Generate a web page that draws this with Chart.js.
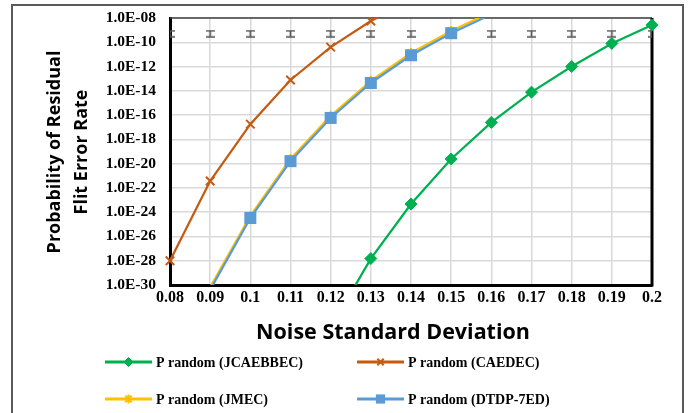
<!DOCTYPE html>
<html><head><meta charset="utf-8">
<script src="https://cdn.jsdelivr.net/npm/chart.js@4/dist/chart.umd.min.js"></script>
<style>html,body{margin:0;padding:0;background:#fff;}#wrap{width:690px;height:413px;position:relative;}</style>
</head><body><div id="wrap"><canvas id="c" width="690" height="413"></canvas></div>
<script>
// ---- data ----
const xValues = [0.08, 0.09, 0.10, 0.11, 0.12, 0.13, 0.14, 0.15, 0.16, 0.17, 0.18, 0.19, 0.20];
const xTickLabels = ['0.08','0.09','0.1','0.11','0.12','0.13','0.14','0.15','0.16','0.17','0.18','0.19','0.2'];
const yTickValues = [1e-30,1e-28,1e-26,1e-24,1e-22,1e-20,1e-18,1e-16,1e-14,1e-12,1e-10,1e-8];
const yTickLabels = ['1.0E-30','1.0E-28','1.0E-26','1.0E-24','1.0E-22','1.0E-20','1.0E-18','1.0E-16','1.0E-14','1.0E-12','1.0E-10','1.0E-08'];
const seriesNames = ['P random (JCAEBBEC)','P random (CAEDEC)','P random (JMEC)','P random (DTDP-7ED)'];
const pJCAEBBEC = [null, null, null, null, 3e-34, 1.5e-28, 4.7e-24, 2.4e-20, 2.5e-17, 7.8e-15, 1.0e-12, 8.0e-11, 2.7e-9];
const pCAEDEC   = [1.0e-28, 3.7e-22, 1.8e-17, 7.8e-14, 4.0e-11, 5.6e-9, 3.0e-7, null, null, null, null, null, null];
const pJMEC     = [null, 6.5e-31, 5.0e-25, 2.4e-20, 8.7e-17, 6.6e-14, 1.3e-11, 8.5e-10, 3.2e-8, null, null, null, null];
const pDTDP7ED  = [null, 4.0e-31, 3.3e-25, 1.6e-20, 5.8e-17, 4.4e-14, 8.5e-12, 5.6e-10, 2.0e-8, null, null, null, null];
const errorMarks = [5e-10,5e-10,5e-10,5e-10,5e-10,5e-10,5e-10,5e-10,5e-10,5e-10,5e-10,5e-10,5e-10];

const Y_MIN = 1e-30, Y_MAX = 1e-8;
const toPts = arr => xValues.map((x, i) => ({x: x, y: arr[i]}));
// markers are hidden when their value lies outside the plotted range (as in the original)
const radiusIn = r => (c => { const v = c.raw && c.raw.y; return (v == null || v > Y_MAX * 1.0001 || v < Y_MIN * 0.9999) ? 0 : r; });

// I-shaped error bar glyph
const errGlyph = document.createElement('canvas');
errGlyph.width = 9; errGlyph.height = 8;
(function(){
  const g = errGlyph.getContext('2d');
  g.strokeStyle = '#595959'; g.lineWidth = 1.7;
  g.beginPath();
  g.moveTo(0, 1); g.lineTo(9, 1);
  g.moveTo(4.5, 1); g.lineTo(4.5, 7);
  g.moveTo(0, 7); g.lineTo(9, 7);
  g.stroke();
})();

const SERIF = "'Liberation Serif', 'Times New Roman', serif";
const SANS = "'Open Sans', 'Noto Sans', sans-serif";

const datasets = [
  {label: seriesNames[0], data: toPts(pJCAEBBEC), borderColor:'#00B050', backgroundColor:'#00B050',
   borderWidth:2.25, pointStyle:'rectRot', pointRadius:radiusIn(6), pointBorderWidth:1, order:2, legendRadius:4.5,
   clip:{left:0, top:0, right:8, bottom:0}},
  {label: seriesNames[1], data: toPts(pCAEDEC), borderColor:'#C55A11', backgroundColor:'#C55A11',
   borderWidth:2.25, pointStyle:'crossRot', pointRadius:radiusIn(6), pointBorderWidth:2, order:3, legendRadius:4.5,
   clip:{left:8, top:0, right:0, bottom:0}},
  {label: seriesNames[2], data: toPts(pJMEC), borderColor:'#FFC000', backgroundColor:'#FFC000',
   borderWidth:2.25, pointStyle:'star', pointRadius:radiusIn(5), pointBorderWidth:2, order:1, clip:0, legendRadius:4.5},
  {label: seriesNames[3], data: toPts(pDTDP7ED), borderColor:'#5B9BD5', backgroundColor:'#5B9BD5',
   borderWidth:2.25, pointStyle:'rect', pointRadius:radiusIn(8.5), pointBorderWidth:0, order:0, clip:0, legendRadius:6.5},
  {label: 'error', data: toPts(errorMarks), showLine:false, pointStyle: errGlyph, pointRadius:5,
   borderColor:'#595959', backgroundColor:'#595959', order:4, clip:0, isError:true}
];

const decor = {
  id: 'decor',
  beforeDraw(chart) {
    const ctx = chart.ctx;
    ctx.save();
    ctx.fillStyle = '#fff';
    ctx.fillRect(0, 0, chart.width, chart.height);
    ctx.strokeStyle = '#595959';
    ctx.lineWidth = 2;
    ctx.beginPath();
    ctx.moveTo(12, 420); ctx.lineTo(12, 5); ctx.lineTo(683, 5); ctx.lineTo(683, 420);
    ctx.stroke();
    ctx.restore();
  },
  beforeDatasetsDraw(chart) {
    const ctx = chart.ctx, a = chart.chartArea;
    ctx.save();
    ctx.strokeStyle = '#404040'; ctx.lineWidth = 1.5;
    ctx.beginPath(); ctx.moveTo(a.left, a.top); ctx.lineTo(a.right, a.top); ctx.stroke();
    ctx.strokeStyle = '#000'; ctx.lineWidth = 3;
    ctx.beginPath(); ctx.moveTo(a.right, a.top); ctx.lineTo(a.right, a.bottom + 1.5); ctx.stroke();
    ctx.restore();
  },
  afterDraw(chart) {
    const ctx = chart.ctx;
    ctx.save();
    // axis titles
    ctx.fillStyle = '#000';
    ctx.font = "bold 18px " + SANS;
    ctx.textAlign = 'center'; ctx.textBaseline = 'alphabetic';
    ctx.save(); ctx.translate(60, 152); ctx.rotate(-Math.PI/2); ctx.fillText('Probability of Residual', 0, 0); ctx.restore();
    ctx.save(); ctx.translate(87, 152); ctx.rotate(-Math.PI/2); ctx.fillText('Flit Error Rate', 0, 0); ctx.restore();
    ctx.font = "bold 21.5px " + SANS;
    ctx.fillText('Noise Standard Deviation', 393, 339);
    // legend
    const pos = [[105, 362], [357, 362], [105, 399], [357, 399]];
    const helpers = Chart.helpers;
    chart.data.datasets.forEach((ds, i) => {
      if (ds.isError) return;
      const [lx, ly] = pos[i];
      ctx.strokeStyle = ds.borderColor; ctx.fillStyle = ds.backgroundColor;
      ctx.lineWidth = 3;
      ctx.beginPath(); ctx.moveTo(lx, ly); ctx.lineTo(lx + 47, ly); ctx.stroke();
      ctx.lineWidth = ds.pointBorderWidth || 1;
      if (helpers && helpers.drawPoint) {
        helpers.drawPoint(ctx, {pointStyle: ds.pointStyle, radius: ds.legendRadius, rotation: 0, borderWidth: ds.pointBorderWidth}, lx + 23.5, ly);
      }
      ctx.fillStyle = '#000';
      ctx.font = "bold 14px " + SERIF;
      ctx.textAlign = 'left'; ctx.textBaseline = 'alphabetic';
      ctx.fillText(ds.label, lx + 51, ly + 5);
    });
    ctx.restore();
  }
};

new Chart(document.getElementById('c'), {
  type: 'line',
  data: {datasets: datasets},
  options: {
    responsive: false, animation: false, devicePixelRatio: 1, events: [],
    layout: {padding: {left: 0, right: 38, top: 18, bottom: 68}},
    elements: {line: {tension: 0}},
    plugins: {legend: {display: false}, tooltip: {enabled: false}},
    scales: {
      x: {
        type: 'linear', min: 0.08, max: 0.2,
        afterBuildTicks: s => { s.ticks = xValues.map(v => ({value: v})); },
        afterFit: s => { s.height = 60; s.paddingLeft = 0; s.paddingRight = 0; },
        ticks: {callback: (v, i) => xTickLabels[i], autoSkip: false, maxRotation: 0, padding: 3,
                color: '#000', font: {family: SERIF, weight: 'bold', size: 16}},
        grid: {color: '#d9d9d9', lineWidth: 1.5, drawTicks: false},
        border: {color: '#000', width: 3}
      },
      y: {
        type: 'logarithmic', min: Y_MIN, max: Y_MAX,
        afterBuildTicks: s => { s.ticks = yTickValues.map(v => ({value: v})); },
        afterFit: s => { s.width = 170; s.paddingTop = 0; s.paddingBottom = 0; },
        ticks: {callback: (v, i) => yTickLabels[i], autoSkip: false, padding: 14,
                color: '#000', font: {family: SERIF, weight: 'bold', size: 15.5}},
        grid: {color: '#d9d9d9', lineWidth: 1.5, drawTicks: false},
        border: {color: '#000', width: 3}
      }
    }
  },
  plugins: [decor]
});
</script></body></html>
